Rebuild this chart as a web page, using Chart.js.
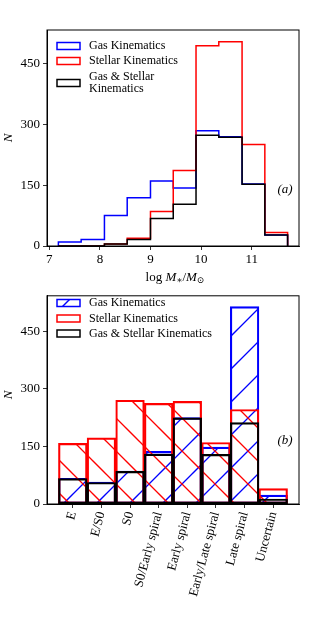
<!DOCTYPE html>
<html>
<head>
<meta charset="utf-8">
<script src="https://cdn.jsdelivr.net/npm/chart.js@4"></script>
<style>
  html, body { margin: 0; padding: 0; background: #fff; }
  .box { position: relative; width: 315px; }
  #top { height: 285px; }
  #bottom { height: 345px; }
  canvas { display: block; }
</style>
</head>
<body>
<div class="box" id="top"><canvas id="massChart"></canvas></div>
<div class="box" id="bottom"><canvas id="morphChart"></canvas></div>
<script>
// panel (a): stellar mass histogram
const massEdges = [7.18, 7.63, 8.09, 8.54, 9.0, 9.45, 9.9, 10.35, 10.81, 11.26, 11.71];
const gasMass = [10, 16, 75, 119, 160, 143, 284, 269, 153, 27];
const stellarMass = [0, 0, 5, 19, 85, 186, 493, 503, 250, 33];
const bothMass = [0, 0, 5, 16, 68, 103, 273, 268, 152, 27];
const massTicks = [7, 8, 9, 10, 11];

// panel (b): morphology
const morphCats = ["E", "E/S0", "S0", "S0/Early spiral", "Early spiral", "Early/Late spiral", "Late spiral", "Uncertain"];
const gasMorph = [67, 57, 86, 137, 225, 148, 514, 23];
const stellarMorph = [158, 172, 270, 262, 267, 160, 246, 40];
const bothMorph = [66, 56, 85, 130, 224, 129, 212, 13];

const countTicks = [0, 150, 300, 450];

const SERIF = '"Liberation Serif", "DejaVu Serif", serif';
const BLUE = "#0000ff";
const RED = "#ff0000";
const BLACK = "#000000";

Chart.defaults.font.family = SERIF;
Chart.defaults.font.size = 12;
Chart.defaults.color = "#000";
Chart.defaults.animation = false;

function stepPoints(edges, values) {
  const pts = [{ x: edges[0], y: 0 }];
  values.forEach((v, i) => pts.push({ x: edges[i], y: v }));
  pts.push({ x: edges[edges.length - 1], y: 0 });
  return pts;
}

function hatch(ctx, color, dir, phase) {
  const size = 33;
  const c = document.createElement("canvas");
  c.width = size;
  c.height = size;
  const g = c.getContext("2d");
  g.strokeStyle = color;
  g.lineWidth = 1.3;
  for (let m = -2 * size; m <= 2 * size; m += size) {
    g.beginPath();
    if (dir === "/") {
      g.moveTo(-2, phase + m + 2);
      g.lineTo(size + 2, phase + m - size - 2);
    } else {
      g.moveTo(-2, -phase + m - 2);
      g.lineTo(size + 2, size - phase + m + 2);
    }
    g.stroke();
  }
  return ctx.createPattern(c, "repeat");
}

// frame, legend and the extra labels drawn the matplotlib way
const decor = {
  id: "decor",
  afterDraw(chart, args, opts) {
    const ctx = chart.ctx;
    const a = chart.chartArea;
    ctx.save();
    ctx.strokeStyle = "#000";
    ctx.lineWidth = 1;
    ctx.strokeRect(a.left, a.top, a.right - a.left, a.bottom - a.top);

    ctx.textBaseline = "middle";
    ctx.textAlign = "left";
    opts.legend.forEach(item => {
      ctx.beginPath();
      ctx.fillStyle = "#fff";
      ctx.fillRect(57, item.y - 3.5, 23, 7);
      if (item.fill) {
        ctx.fillStyle = item.fill;
        ctx.fillRect(57, item.y - 3.5, 23, 7);
      }
      ctx.lineWidth = 1.5;
      ctx.strokeStyle = item.color;
      ctx.strokeRect(57, item.y - 3.5, 23, 7);
      ctx.fillStyle = "#000";
      ctx.font = "12px " + SERIF;
      item.lines.forEach((ln, j) => ctx.fillText(ln, 89, item.textY + j * 11.5));
    });

    ctx.font = "italic 13px " + SERIF;
    ctx.textAlign = "center";
    ctx.fillText(opts.tag, 285, opts.tagY);

    ctx.save();
    ctx.translate(9, opts.nY);
    ctx.rotate(-Math.PI / 2);
    ctx.fillText("N", 0, 0);
    ctx.restore();

    if (opts.xTitle) {
      // log M_*/M_sun
      const y = 278;
      const parts = [
        ["log ", "13px", 0],
        ["M", "italic 13px", 0],
        ["\u2217", "9px", 3],
        ["/", "13px", 0],
        ["M", "italic 13px", 0],
        ["\u2299", "9px", 3],
      ];
      let w = 0;
      parts.forEach(p => { ctx.font = p[1] + " " + SERIF; w += ctx.measureText(p[0]).width; });
      let x = 175 - w / 2;
      ctx.textAlign = "left";
      parts.forEach(p => {
        ctx.font = p[1] + " " + SERIF;
        ctx.fillText(p[0], x, y + p[2]);
        x += ctx.measureText(p[0]).width;
      });
    }
    ctx.restore();
  }
};

function yScale(max) {
  return {
    min: 0,
    max: max,
    afterBuildTicks: s => { s.ticks = countTicks.map(v => ({ value: v })); },
    afterFit: s => { s.width = 47; },
    ticks: { padding: 3, font: { size: 13 } },
    grid: { drawOnChartArea: false, tickLength: 4, color: "#000", lineWidth: 0.8 },
    border: { display: true, color: "#000", width: 1 },
  };
}

function stepLine(label, values, color) {
  return {
    label: label,
    data: stepPoints(massEdges, values),
    borderColor: color,
    borderWidth: 1.5,
    pointRadius: 0,
    stepped: "before",
    fill: false,
  };
}

new Chart(document.getElementById("massChart"), {
  type: "line",
  data: {
    datasets: [
      stepLine("Gas & Stellar Kinematics", bothMass, BLACK),
      stepLine("Stellar Kinematics", stellarMass, RED),
      stepLine("Gas Kinematics", gasMass, BLUE),
    ],
  },
  options: {
    responsive: true,
    maintainAspectRatio: false,
    layout: { padding: { top: 30, right: 16, left: 0, bottom: 0 } },
    plugins: {
      legend: { display: false },
      tooltip: { enabled: false },
      decor: {
        tag: "(a)",
        tagY: 190,
        nY: 138,
        xTitle: true,
        legend: [
          { color: BLUE, y: 46, textY: 46, lines: ["Gas Kinematics"] },
          { color: RED, y: 61, textY: 61, lines: ["Stellar Kinematics"] },
          { color: BLACK, y: 83, textY: 77, lines: ["Gas & Stellar", "Kinematics"] },
        ],
      },
    },
    scales: {
      x: {
        type: "linear",
        min: 6.955,
        max: 11.935,
        afterBuildTicks: s => { s.ticks = massTicks.map(v => ({ value: v })); },
        afterFit: s => { s.height = 39; },
        ticks: { padding: 2, font: { size: 13 } },
        grid: { drawOnChartArea: false, tickLength: 4, color: "#000", lineWidth: 0.8 },
        border: { display: true, color: "#000", width: 1 },
      },
      y: yScale(532),
    },
  },
  plugins: [decor],
});

const morphCtx = document.getElementById("morphChart").getContext("2d");
// hatch phases chosen so the lines line up like the figure (canvas starts 285px down)
const blueHatch = hatch(morphCtx, BLUE, "/", 18);
const redHatch = hatch(morphCtx, RED, "\\", 16);

function morphBars(label, values, color, fill) {
  return {
    label: label,
    data: values.map((v, i) => ({ x: i, y: v })),
    borderColor: color,
    backgroundColor: fill,
    borderWidth: 1.5,
    borderSkipped: false,
    grouped: false,
    barPercentage: 1,
    categoryPercentage: 1,
  };
}

new Chart(morphCtx, {
  type: "bar",
  data: {
    datasets: [
      morphBars("Gas & Stellar Kinematics", bothMorph, BLACK, "rgba(0,0,0,0)"),
      morphBars("Stellar Kinematics", stellarMorph, RED, redHatch),
      morphBars("Gas Kinematics", gasMorph, BLUE, blueHatch),
    ],
  },
  options: {
    responsive: true,
    maintainAspectRatio: false,
    layout: { padding: { top: 3, right: 16, left: 0, bottom: 0 } },
    plugins: {
      legend: { display: false },
      tooltip: { enabled: false },
      decor: {
        tag: "(b)",
        tagY: 156,
        nY: 110,
        xTitle: false,
        legend: [
          { color: BLUE, fill: blueHatch, y: 18, textY: 18, lines: ["Gas Kinematics"] },
          { color: RED, y: 33.5, textY: 33.5, lines: ["Stellar Kinematics"] },
          { color: BLACK, y: 48.5, textY: 48.5, lines: ["Gas & Stellar Kinematics"] },
        ],
      },
    },
    scales: {
      x: {
        type: "linear",
        offset: false,
        min: -0.9,
        max: 7.9,
        afterBuildTicks: s => { s.ticks = morphCats.map((c, i) => ({ value: i })); },
        afterFit: s => { s.height = 126; },
        ticks: {
          autoSkip: false,
          minRotation: 75,
          maxRotation: 75,
          padding: 2,
          font: { size: 13 },
          callback: v => morphCats[v],
        },
        grid: { drawOnChartArea: false, offset: false, tickLength: 4, color: "#000", lineWidth: 0.8 },
        border: { display: true, color: "#000", width: 1 },
      },
      y: yScale(542),
    },
  },
  plugins: [decor],
});
</script>
</body>
</html>
